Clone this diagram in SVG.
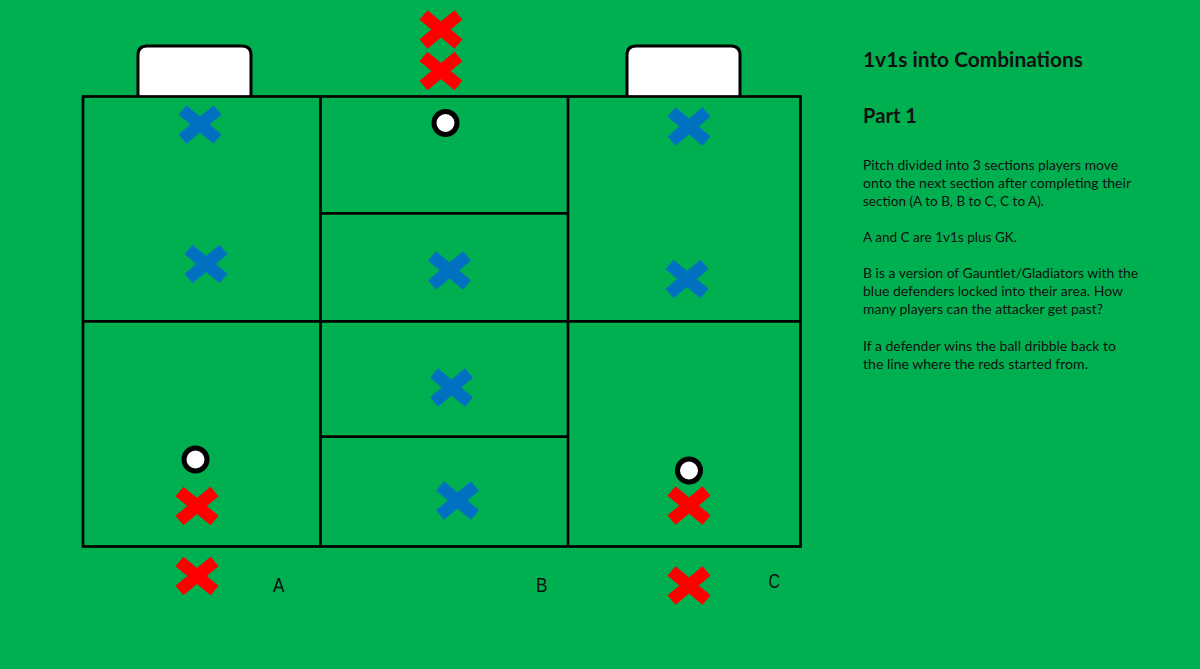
<svg xmlns="http://www.w3.org/2000/svg" xmlns:xlink="http://www.w3.org/1999/xlink" width="1200" height="669" viewBox="0 0 1200 669">
<style>
.ln{stroke:#000;stroke-width:2.7;fill:none}
.goal{fill:#fff;stroke:#000;stroke-width:3}
.body{font-family:Lato,"Open Sans",sans-serif;font-size:13px;fill:#111}
.head{font-family:Lato,"Open Sans",sans-serif;font-size:20px;font-weight:bold;fill:#111}
.lbl{font-family:"Liberation Sans",Arial,sans-serif;font-size:20.5px;fill:#111}
.ball{fill:#fff;stroke:#000;stroke-width:5}
</style>
<defs>
<g id="xm"><path d="M-17.5,-14.5 L17.5,14.5 M-17.5,14.5 L17.5,-14.5" stroke-width="12.5" stroke-linecap="butt"/></g>
</defs>
<rect x="0" y="0" width="1200" height="669" fill="#00B050"/>
<g id="goal-left"><path class="goal" d="M138,96 L138,55 Q138,46 147,46 L242,46 Q251,46 251,55 L251,96"/></g>
<g id="goal-right"><path class="goal" d="M627,96 L627,55 Q627,46 636,46 L731,46 Q740,46 740,55 L740,96"/></g>
<g id="pitch">
<rect class="ln" x="83" y="96.5" width="717.5" height="450"/>
<line class="ln" x1="320.5" y1="96.5" x2="320.5" y2="546.5"/>
<line class="ln" x1="568" y1="96.5" x2="568" y2="546.5"/>
<line class="ln" x1="83" y1="321.3" x2="800.5" y2="321.3"/>
<line class="ln" x1="320.5" y1="213.4" x2="568" y2="213.4"/>
<line class="ln" x1="320.5" y1="436.7" x2="568" y2="436.7"/>
</g>
<g id="red-players" stroke="#FF0000">
<use xlink:href="#xm" transform="translate(441,29.5)"/>
<use xlink:href="#xm" transform="translate(441,71)"/>
<use xlink:href="#xm" transform="translate(197,506)"/>
<use xlink:href="#xm" transform="translate(197,576)"/>
<use xlink:href="#xm" transform="translate(689,505.5)"/>
<use xlink:href="#xm" transform="translate(689,585.5)"/>
</g>
<g id="blue-players" stroke="#0070C0">
<use xlink:href="#xm" transform="translate(200,124.5)"/>
<use xlink:href="#xm" transform="translate(206,264)"/>
<use xlink:href="#xm" transform="translate(449.5,270.5)"/>
<use xlink:href="#xm" transform="translate(451.5,387.5)"/>
<use xlink:href="#xm" transform="translate(457.5,500.5)"/>
<use xlink:href="#xm" transform="translate(689,126.5)"/>
<use xlink:href="#xm" transform="translate(687,279)"/>
</g>
<g id="balls">
<circle class="ball" cx="445.5" cy="123" r="11.5"/>
<circle class="ball" cx="195.5" cy="459.5" r="11.5"/>
<circle class="ball" cx="689" cy="470.5" r="11.5"/>
</g>
<g id="labels">
<text class="lbl" x="273" y="592" textLength="11.5" lengthAdjust="spacingAndGlyphs">A</text>
<text class="lbl" x="536" y="592" textLength="11.5" lengthAdjust="spacingAndGlyphs">B</text>
<text class="lbl" x="768.5" y="588" textLength="11.5" lengthAdjust="spacingAndGlyphs">C</text>
</g>
<g id="notes">
<text class="head" x="863" y="67" textLength="220" lengthAdjust="spacingAndGlyphs">1v1s into Combinations</text>
<text class="head" x="863" y="123" textLength="54" lengthAdjust="spacingAndGlyphs">Part 1</text>
<text class="body" x="863" y="170" textLength="255" lengthAdjust="spacingAndGlyphs">Pitch divided into 3 sections players move</text>
<text class="body" x="863" y="188" textLength="268" lengthAdjust="spacingAndGlyphs">onto the next section after completing their</text>
<text class="body" x="863" y="206" textLength="181" lengthAdjust="spacingAndGlyphs">section (A to B, B to C, C to A).</text>
<text class="body" x="863" y="242" textLength="154" lengthAdjust="spacingAndGlyphs">A and C are 1v1s plus GK.</text>
<text class="body" x="863" y="278" textLength="275" lengthAdjust="spacingAndGlyphs">B is a version of Gauntlet/Gladiators with the</text>
<text class="body" x="863" y="296" textLength="260" lengthAdjust="spacingAndGlyphs">blue defenders locked into their area. How</text>
<text class="body" x="863" y="314" textLength="240" lengthAdjust="spacingAndGlyphs">many players can the attacker get past?</text>
<text class="body" x="863" y="351" textLength="253" lengthAdjust="spacingAndGlyphs">If a defender wins the ball dribble back to</text>
<text class="body" x="863" y="369" textLength="225" lengthAdjust="spacingAndGlyphs">the line where the reds started from.</text>
</g>
</svg>
